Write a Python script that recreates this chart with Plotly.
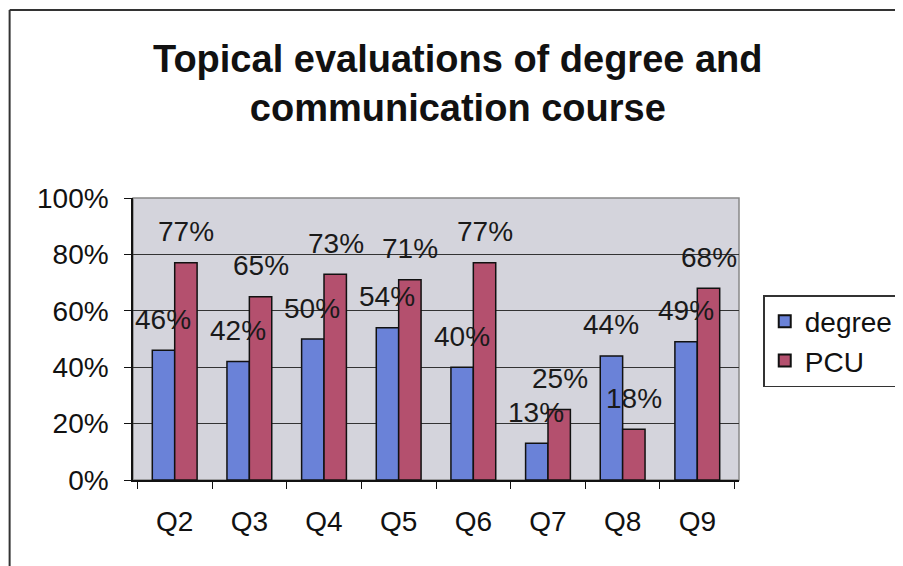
import plotly.graph_objects as go

categories = ["Q2", "Q3", "Q4", "Q5", "Q6", "Q7", "Q8", "Q9"]
degree = [46, 42, 50, 54, 40, 13, 44, 49]
pcu = [77, 65, 73, 71, 77, 25, 18, 68]
y_ticks = [0, 20, 40, 60, 80, 100]

FONT = "Liberation Sans, Arial, sans-serif"
BLUE = "#6a82d8"
RED = "#b4506e"

fig = go.Figure()
fig.add_trace(go.Bar(name="degree", x=categories, y=degree,
                     marker=dict(color=BLUE, line=dict(color="#111111", width=1.5))))
fig.add_trace(go.Bar(name="PCU", x=categories, y=pcu,
                     marker=dict(color=RED, line=dict(color="#111111", width=1.5))))

annotations = []
for i, c in enumerate(categories):
    for vals, shift in ((degree, -11.7), (pcu, 11.7)):
        annotations.append(dict(x=c, y=vals[i], xref="x", yref="y", text=f"{vals[i]}%",
                                showarrow=False, xshift=shift, yshift=31, yanchor="middle",
                                font=dict(family=FONT, size=28, color="#1a1a1a")))

annotations.append(dict(x=0.536, y=1.407, xref="paper", yref="paper", xanchor="center", yanchor="middle",
                        text="<b>Topical evaluations of degree and<br>communication course</b>",
                        showarrow=False, font=dict(family=FONT, size=38, color="#111111")))

fig.update_layout(
    width=903, height=566,
    margin=dict(l=125, r=164, t=190, b=94),
    paper_bgcolor="white", plot_bgcolor="#d4d4dc",
    barmode="group", bargap=0.40, bargroupgap=0.0,
    showlegend=True,
    legend=dict(x=1.04, y=0.656, xanchor="left", yanchor="top", bgcolor="white",
                bordercolor="#333333", borderwidth=1.5,
                font=dict(family=FONT, size=28, color="#111111"),
                itemsizing="constant", tracegroupgap=0),
    annotations=annotations,
    font=dict(family=FONT, size=28, color="#111111"),
    shapes=[
        dict(type="line", xref="paper", yref="paper", x0=-0.2036, x1=1.3, y0=1.667, y1=1.667,
             line=dict(color="#333333", width=2)),
        dict(type="line", xref="paper", yref="paper", x0=-0.2036, x1=-0.2036, y0=1.667, y1=-0.32,
             line=dict(color="#333333", width=2)),
        dict(type="rect", xref="paper", yref="paper", x0=0, x1=1, y0=0, y1=1,
             line=dict(color="#888888", width=1.5), layer="below"),
    ],
)
fig.update_xaxes(type="category", tickson="boundaries", ticks="outside", ticklen=7, tickcolor="#111111",
                 showline=True, linecolor="#111111", linewidth=1.5,
                 tickfont=dict(family=FONT, size=28, color="#111111"), ticklabelstandoff=16)
fig.update_yaxes(range=[0, 100], tickvals=y_ticks, ticktext=[f"{v}%" for v in y_ticks],
                 ticks="outside", ticklen=7, tickcolor="#111111",
                 showline=True, linecolor="#111111", linewidth=1.5,
                 showgrid=True, gridcolor="#333333", gridwidth=1, zeroline=False,
                 tickfont=dict(family=FONT, size=28, color="#111111"), ticklabelstandoff=10)

fig.write_html("out.html")
